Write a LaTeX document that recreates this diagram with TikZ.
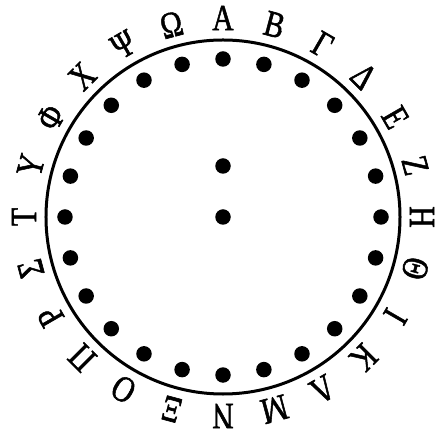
\documentclass[tikz,border=0pt]{standalone}
\usepackage{fontspec}
\setmainfont{Liberation Serif}
\newfontfamily\rimfont[FakeBold=1.6]{Liberation Serif}
\usepackage{graphicx}
\begin{document}
\begin{tikzpicture}[x=1bp,y=1bp,
  letter/.style={inner sep=0pt, font=\rimfont\fontsize{37}{42}\selectfont},
  dot/.style={circle, fill=black, inner sep=0pt, minimum size=15.5bp},
  ring/.style={circle, draw=black, line width=3bp, inner sep=0pt, minimum size=354bp}]
\useasboundingbox (-223,-216) rectangle (222,217);
\node[ring] (ring) at (0,0) {};
\foreach \l [count=\i from 0] in {Α,Β,Γ,Δ,Ε,Ζ,Η,Θ,Ι,Κ,Λ,Μ,Ν,Ξ,Ο,Π,Ρ,Σ,Τ,Υ,Φ,Χ,Ψ,Ω}{
  \pgfmathsetmacro\ang{90-15*\i}
  \node[letter, rotate=\ang-90] (l\i) at (\ang:199) {\scalebox{0.8}[1]{\l}};
  \node[dot] (d\i) at (\ang:158) {};
}
\node[dot] (c0) at (0,0) {};
\node[dot] (c1) at (0,51) {};
\end{tikzpicture}
\end{document}
